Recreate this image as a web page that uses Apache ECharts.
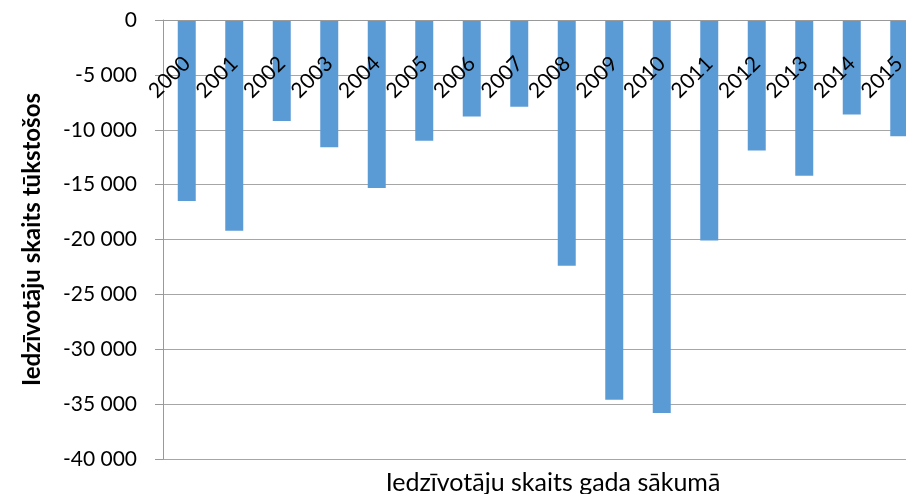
<!DOCTYPE html>
<html>
<head>
<meta charset="utf-8">
<script src="https://cdn.jsdelivr.net/npm/echarts@6/dist/echarts.min.js"></script>
<style>
html,body{margin:0;padding:0;background:#fff;}
#chart{width:906px;height:494px;}
</style>
</head>
<body>
<div id="chart"></div>
<script>
const categories = ["2000","2001","2002","2003","2004","2005","2006","2007","2008","2009","2010","2011","2012","2013","2014","2015"];
const values = [-16500,-19200,-9200,-11600,-15300,-11000,-8800,-7900,-22400,-34600,-35800,-20100,-11900,-14200,-8600,-10600];
const yTitle = "Iedzīvotāju skaits tūkstošos";
const xTitle = "Iedzīvotāju skaits gada sākumā";

const font = "Lato, 'Open Sans', sans-serif";
const chart = echarts.init(document.getElementById('chart'), null, {renderer:'canvas'});
function fmt(v){
  const s = Math.abs(v).toString().replace(/\B(?=(\d{3})+(?!\d))/g, ' ');
  return (v < 0 ? '-' : '') + s;
}
chart.setOption({
  animation:false,
  backgroundColor:'#ffffff',
  grid:{left:163, right:-17, top:20, bottom:35, containLabel:false, outerBoundsMode:'none'},
  title:{
    text:xTitle, left:548, textAlign:'center', top:465,
    textStyle:{fontFamily:font, fontSize:25, fontWeight:'normal', color:'#000'}
  },
  xAxis:{
    type:'category', data:categories, position:'top', z:10,
    axisLine:{onZero:false, lineStyle:{color:'#999999', width:1}},
    axisTick:{show:false},
    axisLabel:{rotate:-45, inside:true, margin:40, interval:0, align:'right', verticalAlign:'middle',
      color:'#000', fontFamily:font, fontSize:21},
    splitLine:{show:false}
  },
  yAxis:{
    type:'value', min:-40000, max:0, interval:5000,
    name:yTitle, nameLocation:'middle', nameGap:119,
    nameTextStyle:{fontFamily:font, fontSize:24, fontWeight:'bold', color:'#000'},
    axisLine:{show:true, onZero:false, lineStyle:{color:'#999999', width:1}},
    axisTick:{show:true, inside:false, length:8, lineStyle:{color:'#999999'}},
    axisLabel:{color:'#000', fontFamily:font, fontSize:21, margin:26, formatter:fmt},
    splitLine:{show:true, lineStyle:{color:'#a6a6a6', width:1}}
  },
  series:[{
    type:'bar', data:values, barWidth:18,
    itemStyle:{color:'#5b9bd5'}
  }]
});
</script>
</body>
</html>
